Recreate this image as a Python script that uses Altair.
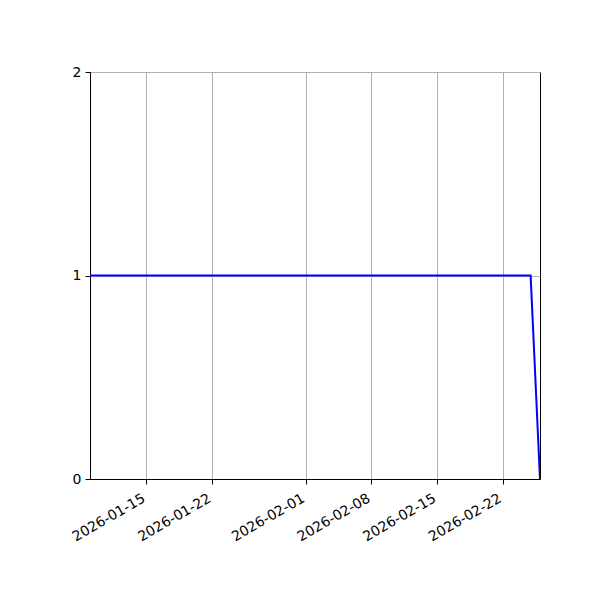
import altair as alt
import pandas as pd

dates = ['2026-01-09', '2026-02-25', '2026-02-26']
values = [1, 1, 0]
tick_dates = ['2026-01-15', '2026-01-22', '2026-02-01', '2026-02-08', '2026-02-15', '2026-02-22']
y_ticks = [0, 1, 2]


def _ms(s):
    return int(pd.Timestamp(s, tz='UTC').value // 10**6)


df = pd.DataFrame({'t': [_ms(d) for d in dates], 'v': values})

font = 'DejaVu Sans'

chart = alt.Chart(df).mark_line(color='#0000ff', strokeWidth=2, clip=True).encode(
    alt.X('t:T', title=None,
          scale=alt.Scale(type='utc', domain=[_ms(dates[0]), _ms(dates[-1])], nice=False),
          axis=alt.Axis(values=[_ms(d) for d in tick_dates],
                        labelExpr="utcFormat(datum.value, '%Y-%m-%d')",
                        labelAngle=-30, labelAlign='right', labelBaseline='top',
                        labelPadding=7, labelOffset=-6, labelOverlap=False)),
    alt.Y('v:Q', title=None,
          scale=alt.Scale(domain=[0, 2], nice=False, zero=False),
          axis=alt.Axis(values=y_ticks, labelExpr="format(datum.value, 'd')",
                        labelPadding=4, labelOverlap=False)),
).properties(
    width=450,
    height=407,
    autosize='none',
    padding={'left': 82, 'top': 64, 'right': 52, 'bottom': 113},
).configure_view(
    stroke='black', strokeWidth=1
).configure_axis(
    domainColor='black', domainWidth=1,
    tickColor='black', tickSize=5, tickWidth=1,
    gridColor='#b0b0b0', gridWidth=1,
    labelFont=font, labelFontSize=14, labelColor='black',
    labelFlush=False,
)

chart.save("out.html", embed_options={"renderer": "svg", "actions": False})
